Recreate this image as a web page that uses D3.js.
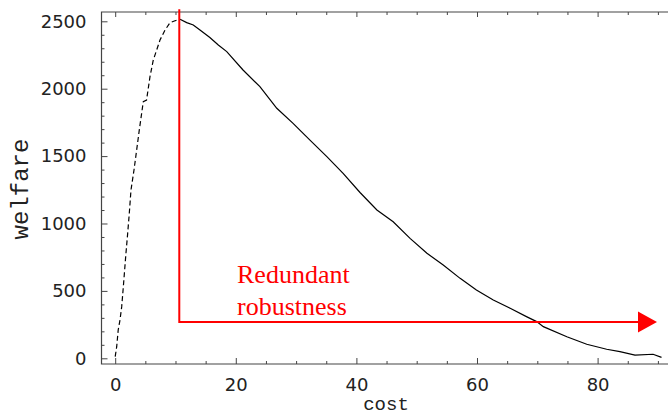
<!DOCTYPE html>
<html><head><meta charset="utf-8">
<script src="https://cdn.jsdelivr.net/npm/d3@7"></script>
<style>body{margin:0;background:#fff}svg{display:block}</style>
</head><body><svg id="c" width="668" height="415"></svg>
<script>
// ---- data ----
const cost = [0, 0.25, 0.5, 0.8, 1.08, 1.35, 1.74, 2.07, 2.34, 2.62, 3.12, 3.56, 4.0, 4.39, 4.66, 5.2, 5.77, 6.32, 6.88, 7.43, 8.26, 9.09, 9.92, 10.75,
  11.86, 12.95, 14.06, 15.7, 17.1, 18.5, 21.2, 24.0, 26.8, 29.5, 32.3, 35.1, 37.8, 40.6, 43.4, 46.1, 48.9, 51.7, 54.4, 57.2, 59.9, 62.7, 65.5, 68.2, 69.9,
  71.0, 74.9, 78.2, 81.5, 83.7, 86.2, 89.2, 90.6];
const welfare = [12, 86, 210, 285, 383, 531, 754, 927, 1076, 1249, 1397, 1545, 1694, 1818, 1904, 1916, 2089, 2213, 2287, 2361, 2435, 2490, 2504, 2515,
  2490, 2473, 2435, 2380, 2324, 2275, 2139, 2015, 1855, 1743, 1619, 1496, 1372, 1230, 1100, 1013, 890, 779, 692, 593, 507, 432, 371, 309, 272,
  235, 160, 104, 67, 49, 24, 30, 7];
const xMajorTicks = [0, 20, 40, 60, 80];
const yMajorTicks = [0, 500, 1000, 1500, 2000, 2500];
const xLabel = "cost";
const yLabel = "welfare";
const noteLines = ["Redundant", "robustness"];
const peakCost = 10.63;      // vertical red marker
const robustLevel = 270;     // horizontal red arrow level
const arrowEndCost = 89.85;
const arrowBaseCost = 86.7;
const lineTopWelfare = 2590;

// ---- layout ----
const svg = d3.select("#c");
const L = 101.5, T = 12, B = 364, R = 669;
const x = d3.scaleLinear().domain([-2.27, 91.84]).range([L, R]);
const y = d3.scaleLinear().domain([-42.3, 2569]).range([B, T]);

const frameColor = "#444";
svg.append("path").attr("d", `M${R},${T}H${L}V${B}H${R}`)
  .attr("fill", "none").attr("stroke", frameColor).attr("stroke-width", 1.2);

const xMinor = d3.range(0, 92, 5).filter(v => !xMajorTicks.includes(v));
const yMinor = d3.range(0, 2569, 100).filter(v => !yMajorTicks.includes(v));

function styleAxis(g){
  g.select(".domain").remove();
  g.selectAll(".tick line").attr("stroke", frameColor).attr("stroke-width", 1);
  g.selectAll("text").attr("font-family", "'DejaVu Sans', sans-serif").attr("font-size", 18).attr("fill", "#222");
}
svg.append("g").attr("transform", `translate(${L},0)`)
  .call(d3.axisLeft(y).tickValues(yMajorTicks).tickSize(-6).tickPadding(15).tickFormat(d3.format("d"))).call(styleAxis);
svg.append("g").attr("transform", `translate(${L},0)`)
  .call(d3.axisLeft(y).tickValues(yMinor).tickSize(-3).tickFormat("")).call(styleAxis);
svg.append("g").attr("transform", `translate(0,${B})`)
  .call(d3.axisBottom(x).tickValues(xMajorTicks).tickSize(-6).tickPadding(14).tickFormat(d3.format("d"))).call(styleAxis);
svg.append("g").attr("transform", `translate(0,${B})`)
  .call(d3.axisBottom(x).tickValues(xMinor).tickSize(-3).tickFormat("")).call(styleAxis);
svg.append("g").attr("transform", `translate(0,${T})`)
  .call(d3.axisTop(x).tickValues(xMajorTicks).tickSize(-5).tickFormat("")).call(styleAxis);
svg.append("g").attr("transform", `translate(0,${T})`)
  .call(d3.axisTop(x).tickValues(xMinor).tickSize(-3).tickFormat("")).call(styleAxis);

svg.append("text").attr("x", 386).attr("y", 410).attr("text-anchor", "middle")
  .attr("font-family", "'Liberation Mono', monospace").attr("font-size", 19).attr("fill", "#222").text(xLabel);
svg.append("text").attr("transform", "translate(28,189) rotate(-90)").attr("text-anchor", "middle")
  .attr("font-family", "'Liberation Mono', monospace").attr("font-size", 24).attr("fill", "#222").text(yLabel);

const pts = cost.map((c, i) => [c, welfare[i]]);
const peakIdx = d3.maxIndex(welfare);
const line = d3.line().x(d => x(d[0])).y(d => y(d[1]));
svg.append("path").attr("d", line(pts.slice(0, peakIdx + 1)))
  .attr("fill", "none").attr("stroke", "#000").attr("stroke-width", 1.2).attr("stroke-dasharray", "5,3");
svg.append("path").attr("d", line(pts.slice(peakIdx)))
  .attr("fill", "none").attr("stroke", "#000").attr("stroke-width", 1.2);

const red = "#ff0000";
svg.append("path")
  .attr("d", `M${x(peakCost)},${y(lineTopWelfare)}V${y(robustLevel)}H${x(arrowBaseCost)}`)
  .attr("fill", "none").attr("stroke", red).attr("stroke-width", 2);
svg.append("path")
  .attr("d", `M${x(arrowBaseCost)},${y(robustLevel) - 10.5}L${x(arrowEndCost)},${y(robustLevel)}L${x(arrowBaseCost)},${y(robustLevel) + 10.5}Z`)
  .attr("fill", red);
const note = svg.append("text").attr("font-family", "'Liberation Serif', 'Times New Roman', serif")
  .attr("font-size", 26).attr("fill", red);
noteLines.forEach((t, i) => note.append("tspan").attr("x", 237).attr("y", 283 + i * 32).text(t));
</script>
</body></html>
